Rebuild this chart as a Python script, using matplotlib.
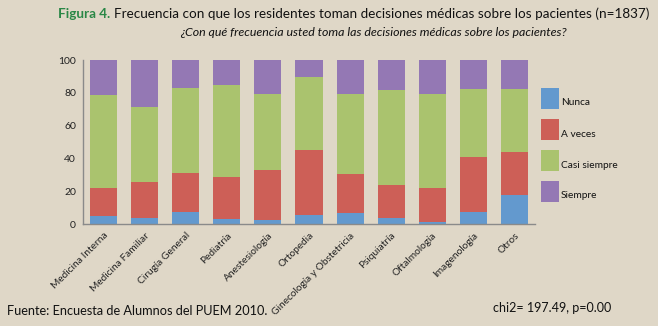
import matplotlib
matplotlib.use("Agg")
import matplotlib.pyplot as plt
import numpy as np
from matplotlib.patches import Rectangle

plt.rcParams['font.family'] = ['Lato', 'DejaVu Sans']

categories = ["Medicina Interna", "Medicina Familiar", "Cirugía General", "Pediatría",
              "Anestesiología", "Ortopedia", "Ginecología y Obstetricia", "Psiquiatría",
              "Oftalmología", "Imagenología", "Otros"]
nunca = [5.1, 3.9, 7.3, 3.0, 2.6, 5.5, 6.9, 3.9, 1.4, 7.3, 17.9]
a_veces = [17.1, 21.7, 23.8, 25.7, 30.3, 39.8, 23.6, 19.9, 20.8, 33.8, 25.8]
casi_siempre = [56.7, 45.7, 52.0, 56.1, 46.6, 44.3, 49.0, 57.7, 57.3, 41.4, 38.8]
siempre = [21.1, 28.7, 16.9, 15.2, 20.5, 10.4, 20.5, 18.5, 20.5, 17.5, 17.5]
series_names = ["Nunca", "A veces", "Casi siempre", "Siempre"]
colors = ["#6399CE", "#CD5F57", "#AAC36E", "#9478B4"]
bg = "#DFD7C7"
W, H = 658, 326

fig = plt.figure(figsize=(W/100, H/100), dpi=100, facecolor=bg)
ax = fig.add_axes([83/W, 1-224/H, (535-83)/W, (224-60)/H])
ax.set_facecolor(bg)

x = np.arange(len(categories))
bottom = np.zeros(len(categories))
for vals, name, c in zip([nunca, a_veces, casi_siempre, siempre], series_names, colors):
    ax.bar(x, vals, width=0.66, bottom=bottom, color=c, edgecolor='none', label=name)
    bottom = bottom + np.array(vals)

ax.set_xlim(-0.5, len(categories) - 0.5)
ax.set_ylim(0, 100)
ax.set_yticks([0, 20, 40, 60, 80, 100])
for s in ['top', 'right']:
    ax.spines[s].set_visible(False)
for s in ['left', 'bottom']:
    ax.spines[s].set_color('#8A8A8A')
    ax.spines[s].set_linewidth(1.0)
ax.tick_params(axis='both', length=0, labelsize=7.5, colors='#222222')
ax.tick_params(axis='y', pad=5)
ax.set_xticks(x)
ax.set_xticklabels(categories, rotation=45, ha='right', rotation_mode='anchor', fontsize=7.3)
ax.tick_params(axis='x', pad=5)

# Legend (manual, figure coordinates)
leg_top = [88, 119, 150, 181]
for top, name, c in zip(leg_top, series_names, colors):
    fig.patches.append(Rectangle((541/W, 1-(top+21)/H), 18/W, 21/H, transform=fig.transFigure,
                                 facecolor=c, edgecolor='none'))
    fig.text(561/W, 1-(top+15)/H, name, fontsize=7.3, color='#111111', ha='left', va='center')

r = fig.canvas.get_renderer()

def fit(txt, target_w):
    fs = txt.get_fontsize()
    for _ in range(3):
        w = txt.get_window_extent(r).width
        fs = fs * target_w / w
        txt.set_fontsize(fs)
    return txt

y1 = 1 - 14/H
t1 = fig.text(58/W, y1, "Figura 4.", color="#2A8746", fontsize=11, fontweight='bold',
              ha='left', va='center')
t2 = fig.text(110/W, y1, "Frecuencia con que los residentes toman decisiones médicas sobre los pacientes (n=1837)",
              color="#111111", fontsize=11, ha='left', va='center')
for _ in range(3):
    b1 = t1.get_window_extent(r)
    t2.set_x((b1.x1 + 4)/W)
    b2 = t2.get_window_extent(r)
    total = b2.x1 - b1.x0
    scale = (652 - 58) / total
    t1.set_fontsize(t1.get_fontsize()*scale)
    t2.set_fontsize(t2.get_fontsize()*scale)
b1 = t1.get_window_extent(r)
t2.set_x((b1.x1 + 4)/W)

t3 = fig.text(373/W, 1-32/H, "¿Con qué frecuencia usted toma las decisiones médicas sobre los pacientes?",
              color="#111111", fontsize=11, style='italic', ha='center', va='center')
fit(t3, 567 - 180)

t4 = fig.text(7/W, 1-311/H, "Fuente: Encuesta de Alumnos del PUEM 2010.", fontsize=9.5,
              color="#111111", ha='left', va='center')
fit(t4, 269 - 7)
t5 = fig.text(493/W, 1-308/H, "chi2= 197.49, p=0.00", fontsize=9.5,
              color="#111111", ha='left', va='center')
fit(t5, 612 - 493)

fig.savefig("out.png", dpi=100, facecolor=bg)
